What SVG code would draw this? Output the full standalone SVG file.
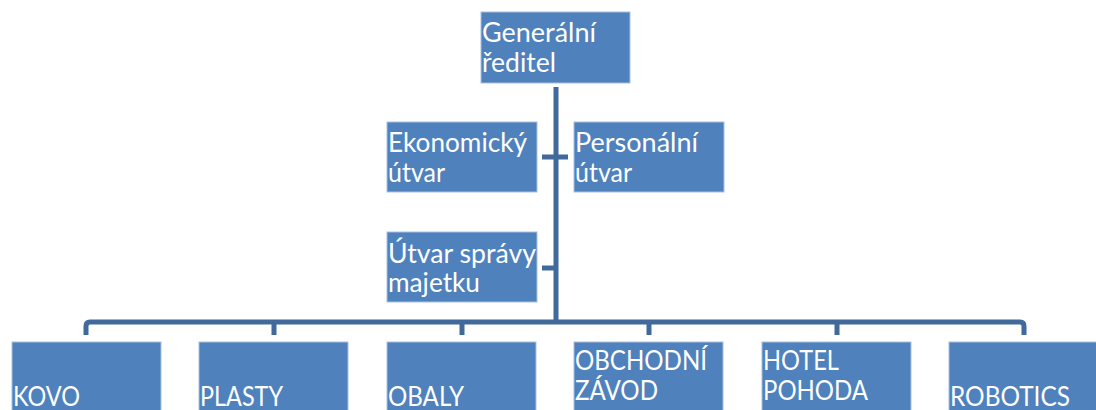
<svg xmlns="http://www.w3.org/2000/svg" width="1096" height="410" viewBox="0 0 1096 410">
<style>
.box{fill:#4F81BD;stroke:#A9C0E0;stroke-width:1}
.t{font-family:Lato,"Open Sans",sans-serif;font-size:26px;fill:#FFFFFF}
.c{fill:none;stroke:#40699C;stroke-width:5;stroke-linejoin:round}
</style>
<rect width="1096" height="410" fill="#FFFFFF"/>
<g id="connectors">
<path class="c" d="M556 87 V322"/>
<path class="c" d="M542 157 H568"/>
<path class="c" d="M542 268 H556"/>
<path class="c" d="M86 335 V326 Q86 322 90 322 H1020 Q1024 322 1024 326 V335"/>
<path class="c" d="M274 322 V335 M462 322 V335 M649 322 V335 M837 322 V335"/>
</g>
<g id="generalni-reditel">
<rect class="box" x="481" y="12" width="149" height="71"/>
<text class="t" x="482" y="42" textLength="114" lengthAdjust="spacingAndGlyphs">Generální</text>
<text class="t" x="482" y="72" textLength="74" lengthAdjust="spacingAndGlyphs">ředitel</text>
</g>
<g id="ekonomicky-utvar">
<rect class="box" x="387" y="122" width="150" height="70"/>
<text class="t" x="388" y="152" textLength="139" lengthAdjust="spacingAndGlyphs">Ekonomický</text>
<text class="t" x="388" y="182" textLength="57" lengthAdjust="spacingAndGlyphs">útvar</text>
</g>
<g id="personalni-utvar">
<rect class="box" x="574" y="122" width="150" height="70"/>
<text class="t" x="575" y="152" textLength="123" lengthAdjust="spacingAndGlyphs">Personální</text>
<text class="t" x="575" y="182" textLength="57" lengthAdjust="spacingAndGlyphs">útvar</text>
</g>
<g id="utvar-spravy-majetku">
<rect class="box" x="387" y="232" width="150" height="70"/>
<text class="t" x="388" y="263" textLength="148" lengthAdjust="spacingAndGlyphs">Útvar správy</text>
<text class="t" x="388" y="292" textLength="92" lengthAdjust="spacingAndGlyphs">majetku</text>
</g>
<g id="kovo">
<rect class="box" x="12" y="342" width="149" height="74"/>
<text class="t" x="13" y="406" textLength="67" lengthAdjust="spacingAndGlyphs">KOVO</text>
</g>
<g id="plasty">
<rect class="box" x="199" y="342" width="149" height="74"/>
<text class="t" x="200" y="406" textLength="83" lengthAdjust="spacingAndGlyphs">PLASTY</text>
</g>
<g id="obaly">
<rect class="box" x="387" y="342" width="149" height="74"/>
<text class="t" x="388" y="406" textLength="76" lengthAdjust="spacingAndGlyphs">OBALY</text>
</g>
<g id="obchodni-zavod">
<rect class="box" x="574" y="342" width="149" height="74"/>
<text class="t" x="575" y="370" textLength="132" lengthAdjust="spacingAndGlyphs">OBCHODNÍ</text>
<text class="t" x="575" y="400" textLength="83" lengthAdjust="spacingAndGlyphs">ZÁVOD</text>
</g>
<g id="hotel-pohoda">
<rect class="box" x="762" y="342" width="149" height="74"/>
<text class="t" x="763" y="370" textLength="76" lengthAdjust="spacingAndGlyphs">HOTEL</text>
<text class="t" x="763" y="400" textLength="105" lengthAdjust="spacingAndGlyphs">POHODA</text>
</g>
<g id="robotics">
<rect class="box" x="949" y="342" width="149" height="74"/>
<text class="t" x="950" y="406" textLength="120" lengthAdjust="spacingAndGlyphs">ROBOTICS</text>
</g>
</svg>
